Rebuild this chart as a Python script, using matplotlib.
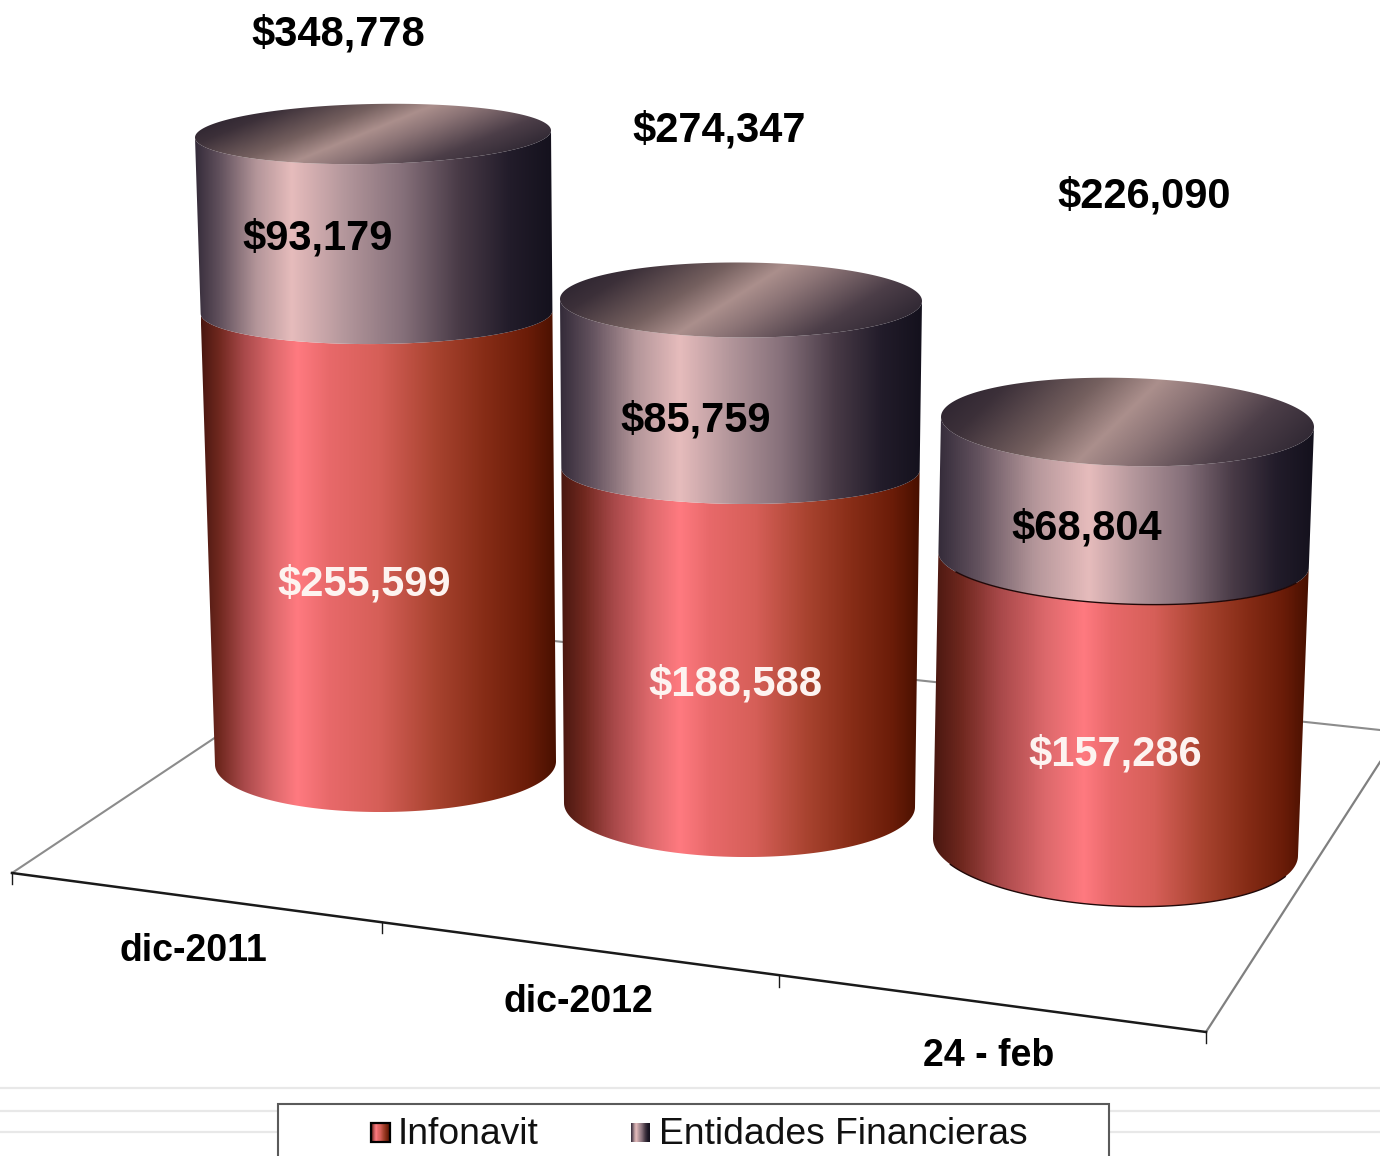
import numpy as np
import matplotlib
matplotlib.use("Agg")
import matplotlib.pyplot as plt
from matplotlib.colors import LinearSegmentedColormap
from matplotlib.path import Path
from matplotlib.patches import Rectangle

plt.rcParams['font.family'] = ['Liberation Sans', 'DejaVu Sans']

categories = ["dic-2011", "dic-2012", "24 - feb"]
infonavit = [255599, 188588, 157286]
entidades = [93179, 85759, 68804]
totales = [348778, 274347, 226090]
series_names = ["Infonavit", "Entidades Financieras"]

# perspective layout of each cylinder, in picture pixels
base_y = [763, 805, 847]
scale_a = [0.001657, 0.001652, 0.001699]
scale_b = [4.2e-10, 6.88e-10, 8.0e-10]
base_x = [(215, 556), (564, 915), (933, 1298)]
top_x = [(195, 551), (560, 922), (941, 1314)]
depth = [(49, 32, 30), (52, 35, 37.5), (59, 44, 44)]
tilt = [(-3, -3, -7), (4, 2, 2), (17, 15, 10)]
cap_skew = [0.42, 0.33, 0.24]
highlight = [0.27, 0.33, 0.40]
outlined = [False, False, True]

red_cmap = LinearSegmentedColormap.from_list("red", [
    (0.0, "#4a1710"), (0.05, "#70281f"), (0.12, "#a9494a"), (0.2, "#dc686b"), (0.27, "#ff7a80"),
    (0.36, "#e8696a"), (0.5, "#d65f58"), (0.66, "#a8432f"), (0.8, "#862c16"), (0.92, "#6a1c08"), (1.0, "#481000"),
])
grey_cmap = LinearSegmentedColormap.from_list("grey", [
    (0.0, "#352c3a"), (0.07, "#63525e"), (0.17, "#b39599"), (0.27, "#e6bcbc"),
    (0.42, "#b3969b"), (0.58, "#86707a"), (0.74, "#483a46"), (0.88, "#221c2a"), (1.0, "#14111d"),
])
cap_cmap = LinearSegmentedColormap.from_list("cap", [
    (0.0, "#221c29"), (0.18, "#3c3039"), (0.36, "#75605f"), (0.48, "#ab8f8c"),
    (0.58, "#8c7476"), (0.76, "#4c3e48"), (1.0, "#1e1a26"),
])


def value_to_y(i, v):
    return base_y[i] - v * (scale_a[i] + scale_b[i] * v)


def level(i, y, which):
    # ellipse of the cylinder i at height y
    f = (base_y[i] - y) / (base_y[i] - value_to_y(i, totales[i]))
    xl = base_x[i][0] + (top_x[i][0] - base_x[i][0]) * f
    xr = base_x[i][1] + (top_x[i][1] - base_x[i][1]) * f
    return (xl + xr) / 2, y, (xr - xl) / 2, depth[i][which], tilt[i][which]


def arc(e, t):
    cx, cy, a, b, dy = e
    return cx + a * np.cos(t), cy + dy / 2 * np.cos(t) + b * np.sin(t)


def draw_side(ax, lo, hi, cmap, peak):
    # front of a segment: lower front arc, then upper front arc going back
    t = np.linspace(np.pi, 0, 120)
    x1, y1 = arc(lo, t)
    x2, y2 = arc(hi, t[::-1])
    pts = np.column_stack([np.r_[x1, x2], np.r_[y1, y2]])
    left, right = pts[:, 0].min(), pts[:, 0].max()
    # the shine sits at a different place on each cylinder
    shade = np.interp(np.linspace(0, 1, 512), [0, peak, 1], [0, 0.27, 1])
    im = ax.imshow(shade[None, :], cmap=cmap, vmin=0, vmax=1, aspect='auto',
                   extent=(left, right, pts[:, 1].max(), pts[:, 1].min()), zorder=3)
    im.set_clip_path(Path(np.vstack([pts, pts[0]]), closed=True), transform=ax.transData)


def draw_cap(ax, e, skew):
    cx, cy, a, b, dy = e
    xs = np.linspace(cx - a, cx + a, 400)
    ys = np.linspace(cy - b - abs(dy), cy + b + abs(dy), 200)
    xx, yy = np.meshgrid(xs, ys)
    s = (xx - cx) / a + skew * (yy - cy) / b
    im = ax.imshow((s + 1.34) / 2.68, cmap=cap_cmap, vmin=0, vmax=1, aspect='auto',
                   extent=(xs[0], xs[-1], ys[-1], ys[0]), zorder=4)
    t = np.linspace(0, 2 * np.pi, 240)
    x, y = arc(e, t)
    im.set_clip_path(Path(np.column_stack([x, y]), closed=True), transform=ax.transData)


fig = plt.figure(figsize=(13.8, 11.56), dpi=100)
ax = fig.add_axes([0, 0, 1, 1])
ax.axis("off")

# floor of the 3d chart
ax.plot([12, 387], [873, 623], color="#8c8c8c", lw=1.5, zorder=1)
ax.plot([387, 1380], [623, 730], color="#8c8c8c", lw=1.5, zorder=1)
ax.plot([1206, 1380], [1032, 762], color="#808080", lw=1.6, zorder=1)
ax.plot([12, 1206], [873, 1032], color="#1a1a1a", lw=1.8, zorder=2)
for tx, ty in [(12, 873), (382, 922), (779, 976), (1206, 1032)]:
    ax.plot([tx, tx], [ty, ty + 11], color="#1a1a1a", lw=1, zorder=2)

for i in range(3):
    y_mid = value_to_y(i, infonavit[i])
    y_top = value_to_y(i, totales[i])
    e_base = level(i, base_y[i], 0)
    e_mid = level(i, y_mid, 1)
    e_top = level(i, y_top, 2)
    draw_side(ax, e_base, e_mid, red_cmap, highlight[i])
    draw_side(ax, e_mid, e_top, grey_cmap, highlight[i])
    draw_cap(ax, e_top, cap_skew[i])
    if outlined[i]:
        t = np.linspace(np.pi * 0.86, np.pi * 0.12, 120)
        for e in (e_base, e_mid):
            x, y = arc(e, t)
            ax.plot(x, y, color="#200808", lw=1, zorder=5)

bold = dict(fontweight="bold", ha="center", va="center", zorder=6)
total_pos = [(338, 34), (719, 130), (1144, 196)]
ent_pos = [(318, 238), (696, 420), (1087, 528)]
inf_pos = [(364, 584), (735, 684), (1115, 754)]
cat_pos = [(193, 951), (578, 1002), (989, 1056)]
for i in range(3):
    ax.text(*total_pos[i], f"${totales[i]:,}", fontsize=30, color="black", **bold)
    ax.text(*ent_pos[i], f"${entidades[i]:,}", fontsize=30, color="black", **bold)
    ax.text(*inf_pos[i], f"${infonavit[i]:,}", fontsize=30, color="#fdf3f0", **bold)
    ax.text(*cat_pos[i], categories[i], fontsize=27, color="black", **bold)

# bits of the sheet behind the legend
for gy in [1088, 1111, 1132]:
    ax.plot([0, 1380], [gy, gy], color="#e8e8e8", lw=1.6, zorder=1)

ax.add_patch(Rectangle((278, 1104), 831, 80, fc="white", ec="#5a5a5a", lw=1.5, zorder=7))
for sx, cmap, name, tx, edge in [(371, red_cmap, series_names[0], 398, True),
                                 (631, grey_cmap, series_names[1], 659, False)]:
    ax.imshow(np.linspace(0, 1, 64)[None, :], cmap=cmap, vmin=0, vmax=1, aspect='auto',
              extent=(sx, sx + 19, 1142, 1123), zorder=8)
    if edge:
        ax.add_patch(Rectangle((sx, 1123), 19, 19, fc="none", ec="black", lw=1.6, zorder=9))
    ax.text(tx, 1134, name, fontsize=26.8, ha="left", va="center", color="#111111", zorder=9)

ax.set_xlim(0, 1380)
ax.set_ylim(1156, 0)
fig.savefig("out.png", dpi=100, facecolor="white")
